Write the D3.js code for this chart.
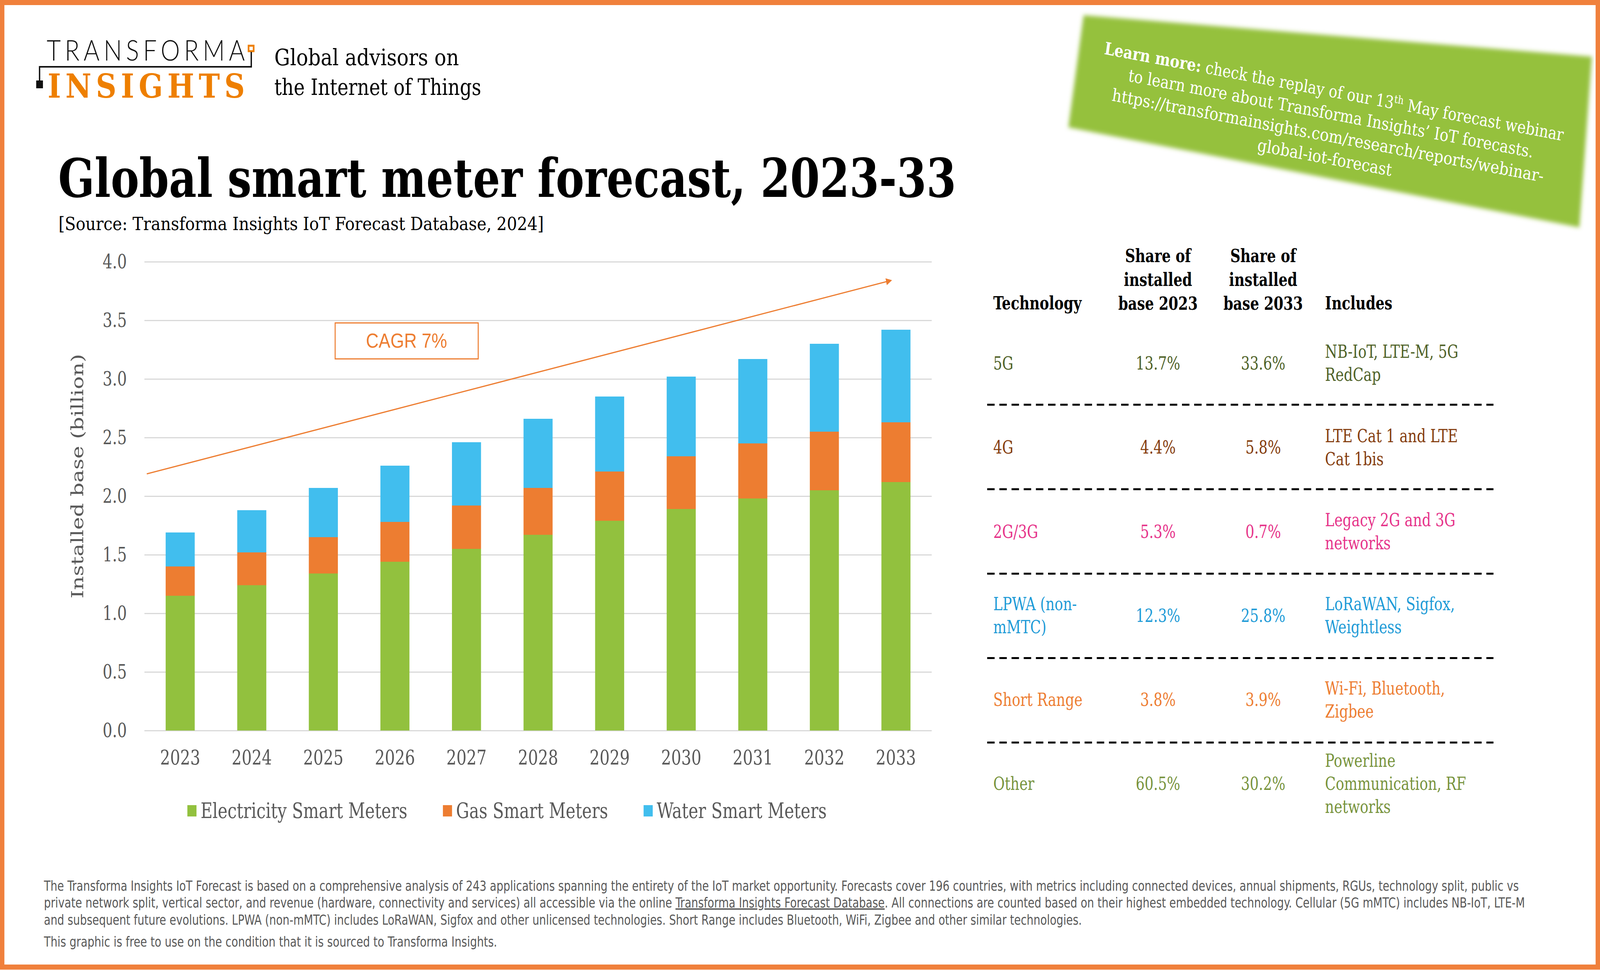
<!DOCTYPE html>
<html>
<head>
<meta charset="utf-8">
<script src="https://cdn.jsdelivr.net/npm/d3@7"></script>
<style>
  html, body { margin: 0; padding: 0; background: #fff; overflow: hidden; }
  svg { display: block; width: 100vw; height: 100vh; }
</style>
</head>
<body>
<div id="chart"></div>
<script>
// chart values
var years = ["2023", "2024", "2025", "2026", "2027", "2028", "2029", "2030", "2031", "2032", "2033"];
var electricity = [1.15, 1.24, 1.34, 1.44, 1.55, 1.67, 1.79, 1.89, 1.98, 2.05, 2.12];
var gas = [0.25, 0.28, 0.31, 0.34, 0.37, 0.40, 0.42, 0.45, 0.47, 0.50, 0.51];
var water = [0.29, 0.36, 0.42, 0.48, 0.54, 0.59, 0.64, 0.68, 0.72, 0.75, 0.79];
var seriesNames = ["Electricity Smart Meters", "Gas Smart Meters", "Water Smart Meters"];
var yTicks = [0, 0.5, 1.0, 1.5, 2.0, 2.5, 3.0, 3.5, 4.0];
var cagrArrow = [2.19, 3.84];
var cagrLabel = "CAGR 7%";

var technologies = [["5G"], ["4G"], ["2G/3G"], ["LPWA (non-", "mMTC)"], ["Short Range"], ["Other"]];
var share2023 = ["13.7%", "4.4%", "5.3%", "12.3%", "3.8%", "60.5%"];
var share2033 = ["33.6%", "5.8%", "0.7%", "25.8%", "3.9%", "30.2%"];
var includes = [
    ["NB-IoT, LTE-M, 5G", "RedCap"],
    ["LTE Cat 1 and LTE", "Cat 1bis"],
    ["Legacy 2G and 3G", "networks"],
    ["LoRaWAN, Sigfox,", "Weightless"],
    ["Wi-Fi, Bluetooth,", "Zigbee"],
    ["Powerline", "Communication, RF", "networks"]
];

var W = 4731, H = 2483;
var slab = "'DejaVu Serif Condensed', 'DejaVu Serif', serif";
var grey = "#595959";
var orange = "#ED7D31";
var colour = d3.scaleOrdinal().domain(seriesNames).range(["#92C13E", "#ED7D31", "#41BEEE"]);
var rowColours = ["#4F6228", "#843C0C", "#E6338A", "#1E9BD7", "#ED7D31", "#77933C"];

// the svg fills the whole window, whatever its css size
var svg = d3.select("#chart").append("svg")
    .attr("viewBox", "0 0 " + W + " " + H)
    .attr("preserveAspectRatio", "none");

var defs = svg.append("defs");
defs.append("filter").attr("id", "soft")
    .attr("x", "-10%").attr("y", "-20%").attr("width", "120%").attr("height", "140%")
    .append("feGaussianBlur").attr("stdDeviation", 6);
defs.append("marker").attr("id", "arrowhead")
    .attr("viewBox", "0 0 10 10").attr("refX", 8).attr("refY", 5)
    .attr("markerWidth", 6).attr("markerHeight", 6)
    .attr("orient", "auto")
    .append("path").attr("d", "M0,0 L10,5 L0,10 z").attr("fill", orange);

// page frame
svg.append("rect")
    .attr("x", 6.5).attr("y", 6.5).attr("width", W - 13).attr("height", H - 14)
    .attr("fill", "#fff").attr("stroke", "#F0803C").attr("stroke-width", 13);

// logo
var logo = svg.append("g");
logo.append("text").attr("x", 138).attr("y", 155)
    .attr("font-family", "Lato, 'Open Sans', sans-serif").attr("font-weight", 300)
    .attr("font-size", 72).attr("textLength", 586).attr("lengthAdjust", "spacing")
    .attr("fill", "#111").text("TRANSFORMA");
logo.append("rect").attr("x", 735).attr("y", 117).attr("width", 15).attr("height", 14)
    .attr("fill", "#fff").attr("stroke", "#EE7F00").attr("stroke-width", 5);
logo.append("path").attr("d", "M743,133 V171 H117 V208")
    .attr("fill", "none").attr("stroke", "#111").attr("stroke-width", 4);
logo.append("rect").attr("x", 107).attr("y", 206).attr("width", 20).attr("height", 20).attr("fill", "#111");
logo.append("text").attr("x", 141).attr("y", 250)
    .attr("font-family", "'DejaVu Serif', serif").attr("font-weight", "bold")
    .attr("font-size", 84).attr("textLength", 583).attr("lengthAdjust", "spacing")
    .attr("fill", "#EE7F00").text("INSIGHTS");
logo.append("text").attr("x", 811).attr("y", 167)
    .attr("font-family", slab).attr("font-size", 58)
    .attr("textLength", 546).attr("lengthAdjust", "spacingAndGlyphs")
    .attr("fill", "#000").text("Global advisors on");
logo.append("text").attr("x", 811).attr("y", 243)
    .attr("font-family", slab).attr("font-size", 58)
    .attr("textLength", 612).attr("lengthAdjust", "spacingAndGlyphs")
    .attr("fill", "#000").text("the Internet of Things");

// title + source
svg.append("text").attr("x", 172).attr("y", 504)
    .attr("font-family", slab).attr("font-weight", "bold").attr("font-size", 136)
    .attr("textLength", 2655).attr("lengthAdjust", "spacingAndGlyphs")
    .attr("fill", "#000").text("Global smart meter forecast, 2023-33");
svg.append("text").attr("x", 173).attr("y", 589)
    .attr("font-family", slab).attr("font-size", 46)
    .attr("textLength", 1435).attr("lengthAdjust", "spacingAndGlyphs")
    .attr("fill", "#000").text("[Source: Transforma Insights IoT Forecast Database, 2024]");

// green "learn more" banner
svg.append("polygon")
    .attr("points", "3204,39 4707,145 4670,582 3159,326")
    .attr("fill", "#95C13D").attr("filter", "url(#soft)");
var banner = svg.append("g")
    .attr("transform", "translate(3931,319) rotate(9.3)")
    .attr("font-family", slab).attr("font-size", 44).attr("fill", "#fff")
    .attr("text-anchor", "middle");
var b1 = banner.append("text").attr("x", 0).attr("y", -1.5 * 57 + 15)
    .attr("textLength", 1375).attr("lengthAdjust", "spacingAndGlyphs");
b1.append("tspan").attr("font-weight", "bold").text("Learn more:");
b1.append("tspan").text(" check the replay of our 13");
b1.append("tspan").attr("font-size", 28).attr("dy", -16).text("th");
b1.append("tspan").attr("dy", 16).text(" May forecast webinar");
banner.append("text").attr("x", 0).attr("y", -0.5 * 57 + 15)
    .attr("textLength", 1213).attr("lengthAdjust", "spacingAndGlyphs")
    .text("to learn more about Transforma Insights\u2019 IoT forecasts.");
banner.append("text").attr("x", 0).attr("y", 0.5 * 57 + 15)
    .attr("textLength", 1293).attr("lengthAdjust", "spacingAndGlyphs")
    .text("https://transformainsights.com/research/reports/webinar-");
banner.append("text").attr("x", 0).attr("y", 1.5 * 57 + 15)
    .attr("textLength", 402).attr("lengthAdjust", "spacingAndGlyphs")
    .text("global-iot-forecast");

// bar chart
var plot = { left: 427, right: 2755, top: 670, bottom: 1870 };

var x = d3.scaleBand().domain(years)
    .range([plot.left, plot.right])
    .paddingInner(0.594).paddingOuter(0.297);
var y = d3.scaleLinear().domain([0, 4]).range([plot.bottom, plot.top]);

var rows = years.map(function(yr, i) {
    var r = { year: yr };
    r[seriesNames[0]] = electricity[i];
    r[seriesNames[1]] = gas[i];
    r[seriesNames[2]] = water[i];
    return r;
});
var stacked = d3.stack().keys(seriesNames)(rows);

var yAxis = svg.append("g")
    .attr("transform", "translate(" + plot.left + ",0)")
    .call(d3.axisLeft(y).tickValues(yTicks).tickFormat(d3.format(".1f"))
        .tickSize(-(plot.right - plot.left)).tickPadding(52));
yAxis.select(".domain").remove();
yAxis.selectAll("line").attr("stroke", "#D9D9D9").attr("stroke-width", 3);
yAxis.selectAll("text").attr("fill", grey).attr("font-family", slab).attr("font-size", 50);

var xAxis = svg.append("g")
    .attr("transform", "translate(0," + plot.bottom + ")")
    .call(d3.axisBottom(x).tickSize(0).tickPadding(50));
xAxis.select(".domain").remove();
xAxis.selectAll("text").attr("fill", grey).attr("font-family", slab).attr("font-size", 52);

svg.append("g").selectAll("g")
    .data(stacked)
    .join("g")
    .attr("fill", function(d) { return colour(d.key); })
    .selectAll("rect")
    .data(function(d) { return d; })
    .join("rect")
    .attr("x", function(d) { return x(d.data.year); })
    .attr("width", x.bandwidth())
    .attr("y", function(d) { return y(d[1]); })
    .attr("height", function(d) { return y(d[0]) - y(d[1]); });

svg.append("text")
    .attr("transform", "translate(246,1219) rotate(-90)")
    .attr("text-anchor", "middle")
    .attr("font-family", "'DejaVu Serif', serif").attr("font-size", 50)
    .attr("textLength", 626).attr("lengthAdjust", "spacingAndGlyphs")
    .attr("fill", grey).text("Installed base (billion)");

// CAGR annotation
svg.append("line")
    .attr("x1", plot.left + 7).attr("y1", y(cagrArrow[0]))
    .attr("x2", x("2033") + x.bandwidth() / 2 - 15).attr("y2", y(cagrArrow[1]))
    .attr("stroke", orange).attr("stroke-width", 3)
    .attr("marker-end", "url(#arrowhead)");
svg.append("rect")
    .attr("x", 991).attr("y", y(3.478)).attr("width", 423).attr("height", y(3.171) - y(3.478))
    .attr("fill", "#fff").attr("stroke", orange).attr("stroke-width", 3);
svg.append("text")
    .attr("x", 1202).attr("y", (y(3.478) + y(3.171)) / 2 + 17)
    .attr("text-anchor", "middle")
    .attr("font-family", "'Liberation Sans Narrow', 'Liberation Sans', sans-serif").attr("font-size", 52)
    .attr("fill", orange).text(cagrLabel);

// legend
var legend = svg.append("g").attr("font-family", slab).attr("font-size", 54).attr("fill", grey);
var lx = 554;
seriesNames.forEach(function(name) {
    legend.append("rect").attr("x", lx).attr("y", 2061).attr("width", 27).attr("height", 29)
        .attr("fill", colour(name));
    var t = legend.append("text").attr("x", lx + 39).attr("y", 2094).text(name);
    lx += 39 + t.node().getComputedTextLength() + 105;
});

// technology table
var table = svg.append("g").attr("font-family", slab);
var col = { tech: 2937, s23: 3424, s33: 3735, inc: 3918, left: 2919, right: 4416 };
var header = table.append("g").attr("font-weight", "bold").attr("font-size", 46).attr("fill", "#000");
header.append("text").attr("x", col.tech).attr("y", 792).text("Technology");
header.append("text").attr("x", col.inc).attr("y", 792).text("Includes");
[["s23", "base 2023"], ["s33", "base 2033"]].forEach(function(h) {
    var t = header.append("text").attr("text-anchor", "middle");
    ["Share of", "installed", h[1]].forEach(function(line, i) {
        t.append("tspan").attr("x", col[h[0]]).attr("y", 671 + i * 61).text(line);
    });
});

var rowBase = function(i) { return 946 + i * 215.3; };
var lineGap = 59;
technologies.forEach(function(tech, i) {
    var g = table.append("g").attr("fill", rowColours[i]).attr("font-size", 46);
    var multi = function(lines, xPos, anchor) {
        var t = g.append("text").attr("text-anchor", anchor);
        lines.forEach(function(line, k) {
            t.append("tspan").attr("x", xPos)
                .attr("y", rowBase(i) + (k - (lines.length - 1) / 2) * lineGap)
                .text(line);
        });
    };
    multi(tech, col.tech, "start");
    multi([share2023[i]], col.s23, "middle");
    multi([share2033[i]], col.s33, "middle");
    multi(includes[i], col.inc, "start");
    if (i < technologies.length - 1) {
        var ly = 1036 + i * 216.2;
        table.append("line").attr("x1", col.left).attr("x2", col.right)
            .attr("y1", ly).attr("y2", ly)
            .attr("stroke", "#000").attr("stroke-width", 5)
            .attr("stroke-dasharray", "22,14");
    }
});

// footer notes
var foot = svg.append("g")
    .attr("font-family", "'Liberation Sans Narrow', 'DejaVu Sans Condensed', sans-serif")
    .attr("font-size", 36).attr("fill", grey);
foot.append("text").attr("x", 130).attr("y", 2280)
    .attr("textLength", 4361).attr("lengthAdjust", "spacingAndGlyphs")
    .text("The Transforma Insights IoT Forecast is based on a comprehensive analysis of 243 applications spanning the entirety of the IoT market opportunity. Forecasts cover 196 countries, with metrics including connected devices, annual shipments, RGUs, technology split, public vs");
var f2 = foot.append("text").attr("x", 130).attr("y", 2323)
    .attr("textLength", 4379).attr("lengthAdjust", "spacingAndGlyphs");
f2.append("tspan").text("private network split, vertical sector, and revenue (hardware, connectivity and services) all accessible via the online ");
f2.append("tspan").attr("text-decoration", "underline").text("Transforma Insights Forecast Database");
f2.append("tspan").text(". All connections are counted based on their highest embedded technology. Cellular (5G mMTC) includes NB-IoT, LTE-M");
foot.append("text").attr("x", 130).attr("y", 2367)
    .attr("textLength", 3069).attr("lengthAdjust", "spacingAndGlyphs")
    .text("and subsequent future evolutions. LPWA (non-mMTC) includes LoRaWAN, Sigfox and other unlicensed technologies. Short Range includes Bluetooth, WiFi, Zigbee and other similar technologies.");
foot.append("text").attr("x", 130).attr("y", 2423)
    .attr("textLength", 1340).attr("lengthAdjust", "spacingAndGlyphs")
    .text("This graphic is free to use on the condition that it is sourced to Transforma Insights.");
</script>
</body>
</html>
